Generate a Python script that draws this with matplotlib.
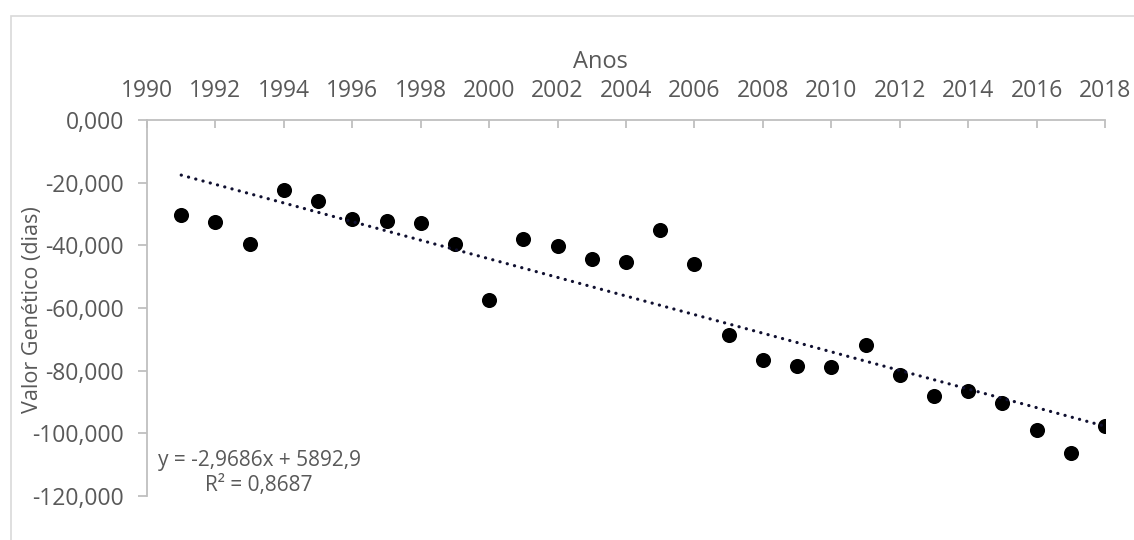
import numpy as np
import matplotlib
matplotlib.use('Agg')
from matplotlib import pyplot as plt
from matplotlib.patches import Rectangle

anos = [1991, 1992, 1993, 1994, 1995, 1996, 1997, 1998, 1999, 2000,
        2001, 2002, 2003, 2004, 2005, 2006, 2007, 2008, 2009, 2010,
        2011, 2012, 2013, 2014, 2015, 2016, 2017, 2018]
valor = [-30.3, -32.4, -39.7, -22.3, -26.0, -31.7, -32.2, -33.0, -39.7, -57.5,
         -38.1, -40.2, -44.3, -45.2, -35.1, -46.1, -68.6, -76.7, -78.4, -78.8,
         -71.9, -81.5, -88.0, -86.5, -90.2, -99.0, -106.4, -97.7]
# linha de tendencia (do rotulo do grafico)
inclinacao = -2.9686
intercepto = 5892.9
r2 = 0.8687

cinza = '#595959'
plt.rcParams['font.family'] = ['Open Sans', 'DejaVu Sans']

fig = plt.figure(figsize=(11.34, 5.4), dpi=100)
ax = fig.add_axes([147/1134, 1-496/540, (1105-147)/1134, (496-120)/540])

# moldura da area do grafico
fig.add_artist(Rectangle((11/1134, -0.2), 1.2, 1-16/540+0.2, transform=fig.transFigure,
                         fill=False, edgecolor='#d9d9d9', lw=1.2))

ax.scatter(anos, valor, s=118, color='black', zorder=3, linewidths=0)

xt = np.array([anos[0], anos[-1]])
ax.plot(xt, inclinacao*xt + intercepto, color='#101030', lw=2.3,
        linestyle=(0, (0.05, 2.3)), dash_capstyle='round', zorder=4)

ax.set_xlim(1990, 2018)
ax.set_ylim(-120, 0)
ax.xaxis.tick_top()
ax.xaxis.set_label_position('top')
ax.set_xticks(np.arange(1990, 2019, 2))
ax.set_yticks(np.arange(-120, 1, 20))
ax.set_yticklabels([f'{v:.3f}'.replace('.', ',') for v in np.arange(-120, 1, 20)])

for s in ['right', 'bottom']:
    ax.spines[s].set_visible(False)
for s in ['left', 'top']:
    ax.spines[s].set_color('#bfbfbf')
    ax.spines[s].set_linewidth(1.3)
ax.tick_params(axis='x', direction='in', length=6, width=1.3, color='#bfbfbf',
               labelsize=16.5, labelcolor=cinza, pad=12)
ax.tick_params(axis='y', direction='out', length=6.5, width=1.3, color='#bfbfbf',
               labelsize=16.5, labelcolor=cinza, pad=10)

fig.text(600/1134, 1-62/540, 'Anos', ha='center', va='center', fontsize=17, color=cinza)
fig.text(33/1134, 1-310/540, 'Valor Genético (dias)', ha='center', va='center',
         rotation=90, fontsize=15.5, color=cinza)

eq = 'y = -2,9686x + 5892,9\nR² = ' + f'{r2:.4f}'.replace('.', ',')
fig.text(259/1134, 1-473/540, eq, ha='center', va='center', fontsize=15,
         color=cinza, linespacing=1.3, multialignment='center')

fig.savefig('out.png', dpi=100)
